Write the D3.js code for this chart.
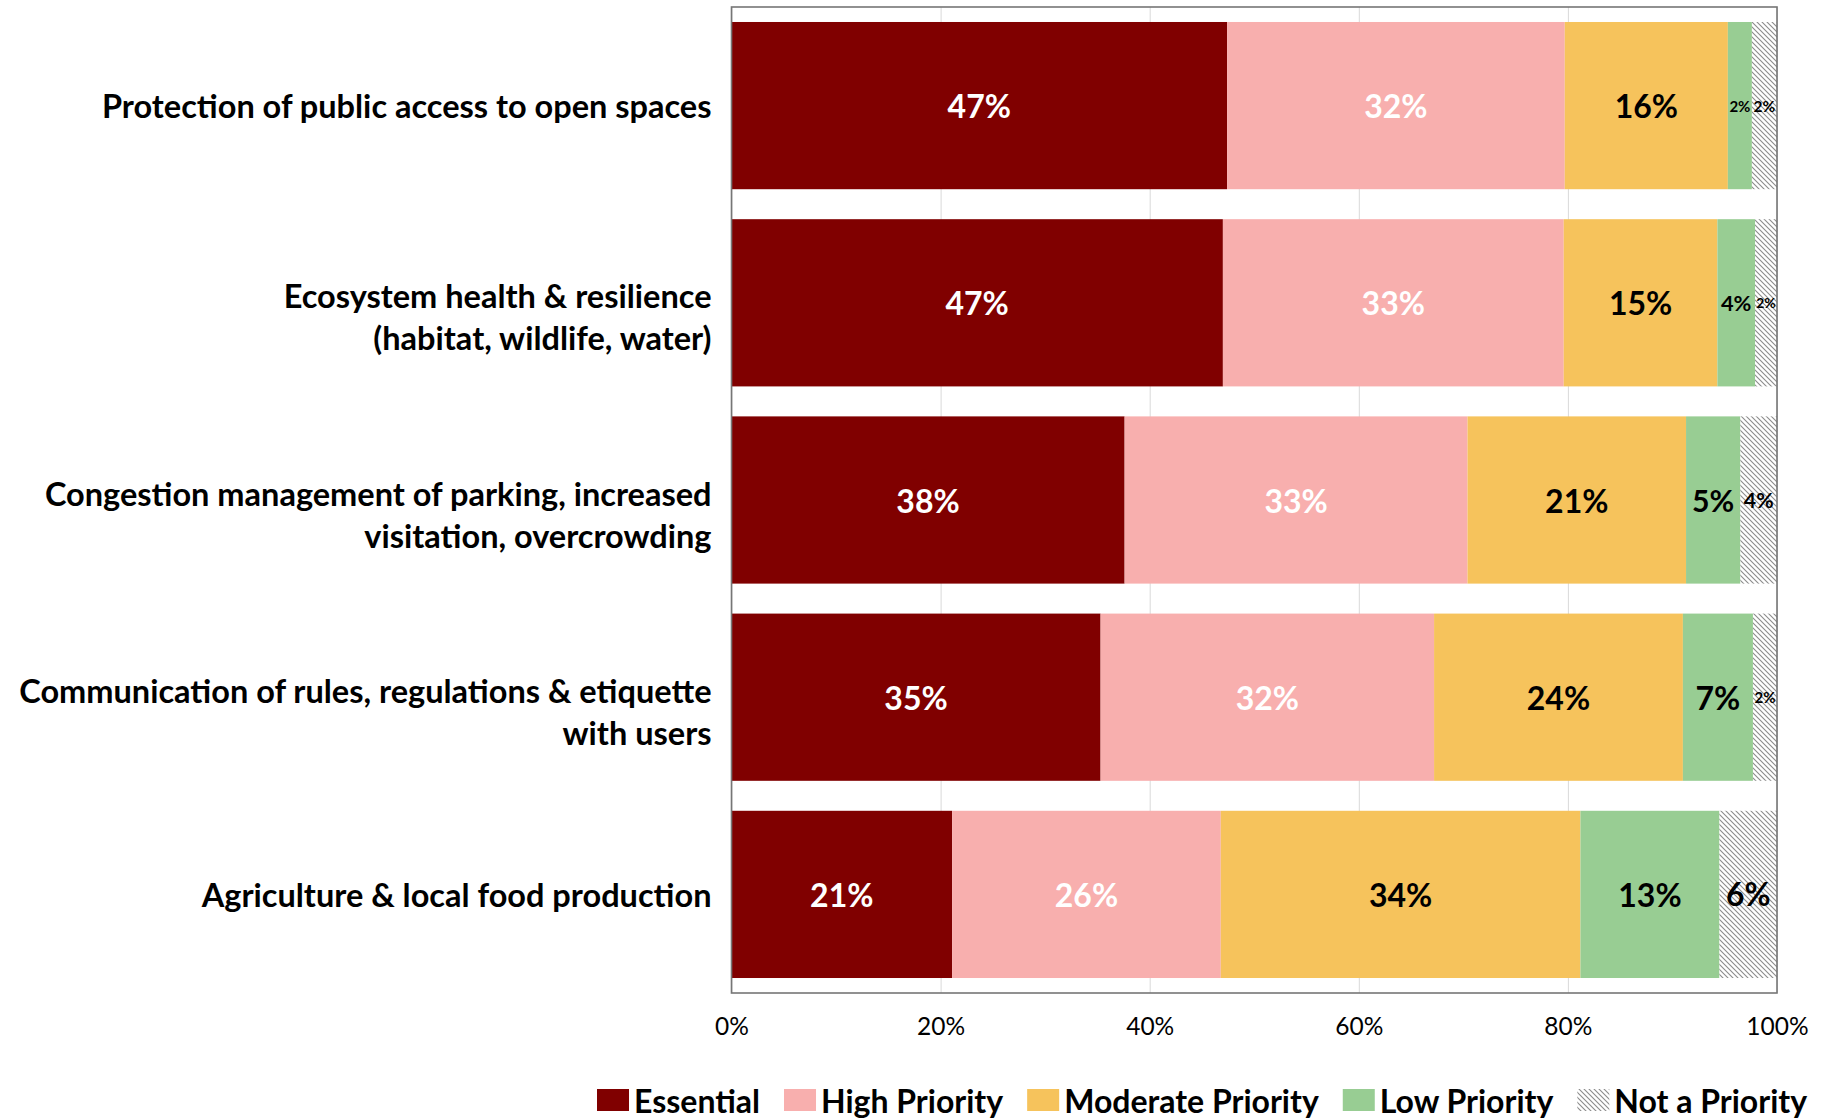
<!DOCTYPE html>
<html>
<head>
<meta charset="utf-8">
<script src="https://cdn.jsdelivr.net/npm/d3@7"></script>
<style>
  html, body { margin: 0; padding: 0; background: #ffffff; }
  svg { display: block; font-family: Lato, "Open Sans", sans-serif; }
</style>
</head>
<body>
<svg id="chart" width="1827" height="1119"></svg>
<script>
// Priority ratings per topic, in percent of respondents
const categories = [
  ["Protection of public access to open spaces"],
  ["Ecosystem health & resilience", "(habitat, wildlife, water)"],
  ["Congestion management of parking, increased", "visitation, overcrowding"],
  ["Communication of rules, regulations & etiquette", "with users"],
  ["Agriculture & local food production"]
];
const seriesNames = ["Essential", "High Priority", "Moderate Priority", "Low Priority", "Not a Priority"];
const essential   = [47.4, 47.0, 37.6, 35.3, 21.1];
const highPrio    = [32.3, 32.6, 32.8, 31.9, 25.7];
const moderate    = [15.6, 14.7, 20.9, 23.8, 34.4];
const lowPrio     = [2.3, 3.6, 5.2, 6.7, 13.3];
const notPrio     = [2.4, 2.1, 3.5, 2.3, 5.5];
const tickValues  = [0, 20, 40, 60, 80, 100];

const seriesValues = [essential, highPrio, moderate, lowPrio, notPrio];
const fills = ["#800000", "#f8afae", "#f6c35c", "#98cd93", "url(#hatch)"];
const labelColors = ["#ffffff", "#ffffff", "#000000", "#000000", "#000000"];

const svg = d3.select("#chart");
const W = 1827, H = 1119;
const plot = { left: 731.5, right: 1777, top: 7, bottom: 993 };

svg.append("rect").attr("width", W).attr("height", H).attr("fill", "#ffffff");

// diagonal hatch used for "Not a Priority"
const defs = svg.append("defs");
const pat = defs.append("pattern")
  .attr("id", "hatch").attr("patternUnits", "userSpaceOnUse")
  .attr("width", 5).attr("height", 5);
pat.append("rect").attr("width", 5).attr("height", 5).attr("fill", "#ffffff");
pat.append("path")
  .attr("d", "M-1,-1 L6,6 M-1,4 L1,6 M4,-1 L6,1")
  .attr("stroke", "#8c8c8c").attr("stroke-width", 1.1);

const keys = categories.map((c, i) => "c" + i);
const x = d3.scaleLinear().domain([0, 100]).range([plot.left, plot.right]);
const y = d3.scaleBand().domain(keys).range([plot.top, plot.bottom])
  .paddingInner(0.152).paddingOuter(0.076);

// vertical gridlines
const grid = svg.append("g")
  .attr("transform", `translate(0,${plot.bottom})`)
  .call(d3.axisBottom(x).tickValues(tickValues).tickSize(-(plot.bottom - plot.top)).tickFormat(""));
grid.select(".domain").remove();
grid.selectAll("line").attr("stroke", "#d9d9d9").attr("stroke-width", 1);

// stacked rows
const rows = keys.map((k, i) => {
  let acc = 0;
  return seriesValues.map((vals, s) => {
    const seg = { key: k, s, v: vals[i], x0: acc, x1: acc + vals[i] };
    acc += vals[i];
    return seg;
  });
}).flat();

svg.append("g").selectAll("rect").data(rows).join("rect")
  .attr("x", d => x(d.x0))
  .attr("y", d => y(d.key))
  .attr("width", d => x(d.x1) - x(d.x0))
  .attr("height", y.bandwidth())
  .attr("fill", d => fills[d.s]);

// plot frame
svg.append("rect")
  .attr("x", plot.left).attr("y", plot.top)
  .attr("width", plot.right - plot.left).attr("height", plot.bottom - plot.top)
  .attr("fill", "none").attr("stroke", "#767676").attr("stroke-width", 1.6);

// value labels, shrunk to fit narrow segments
svg.append("g").selectAll("text").data(rows).join("text")
  .attr("x", d => (x(d.x0) + x(d.x1)) / 2)
  .attr("y", d => y(d.key) + y.bandwidth() / 2)
  .attr("text-anchor", "middle")
  .attr("dominant-baseline", "central")
  .attr("font-weight", 700)
  .attr("font-size", d => Math.min(32, 0.5 * (x(d.x1) - x(d.x0)) + 3))
  .attr("fill", d => labelColors[d.s])
  .text(d => Math.round(d.v) + "%");

// category labels; wrapped labels sit a little below the bar centre
const catG = svg.append("g");
categories.forEach((lines, i) => {
  const lh = 42;
  const shift = lines.length > 1 ? 14 : 0;
  const cy = y(keys[i]) + y.bandwidth() / 2 + shift;
  const t = catG.append("text")
    .attr("text-anchor", "end")
    .attr("font-weight", 700)
    .attr("font-size", 32.5)
    .attr("fill", "#000000");
  lines.forEach((ln, j) => {
    t.append("tspan")
      .attr("x", plot.left - 20)
      .attr("y", cy + (j - (lines.length - 1) / 2) * lh)
      .attr("dominant-baseline", "central")
      .text(ln);
  });
});

// x axis tick labels
const ax = svg.append("g")
  .attr("transform", `translate(0,${plot.bottom})`)
  .call(d3.axisBottom(x).tickValues(tickValues).tickSize(0).tickFormat(d => d + "%"));
ax.select(".domain").remove();
ax.selectAll("text")
  .attr("y", 32).attr("dy", null)
  .attr("dominant-baseline", "central")
  .attr("font-family", "Lato, sans-serif")
  .attr("font-size", 24.5)
  .attr("fill", "#000000");

// legend
const leg = svg.append("g");
let lx = 597;
const ly = 1100;
seriesNames.forEach((name, s) => {
  leg.append("rect")
    .attr("x", lx).attr("y", ly - 11)
    .attr("width", 32).attr("height", 22)
    .attr("fill", fills[s]);
  const t = leg.append("text")
    .attr("x", lx + 37).attr("y", ly)
    .attr("dominant-baseline", "central")
    .attr("font-weight", 700)
    .attr("font-size", 32)
    .attr("fill", "#000000")
    .text(name);
  lx += 37 + t.node().getComputedTextLength() + 24;
});
</script>
</body>
</html>
